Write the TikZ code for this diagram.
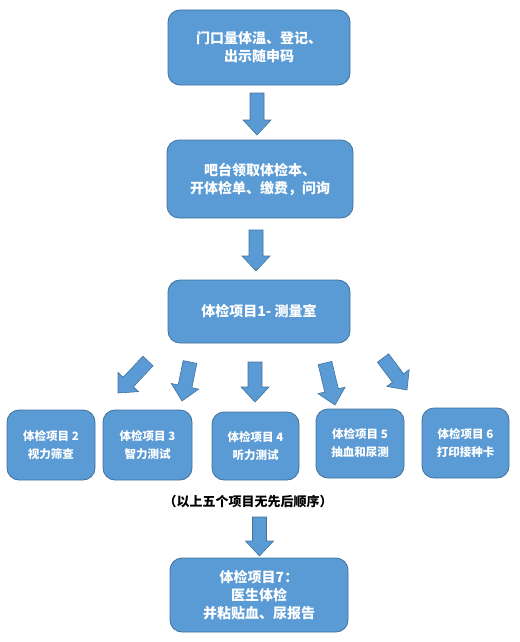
\documentclass[tikz,border=0pt]{standalone}
\usepackage{fontspec}
\newfontfamily\cjk{Noto Sans CJK SC}
\usetikzlibrary{calc}
\definecolor{boxblue}{HTML}{5B9BD5}
\definecolor{boxedge}{HTML}{41719C}
\tikzset{
  box/.style={draw=boxedge, line width=0.8pt, fill=boxblue, rounded corners=12pt,
    text=white, font=\cjk\bfseries\fontsize{14}{18}\selectfont, align=center, inner sep=0pt},
  smallbox/.style={box, font=\cjk\bfseries\fontsize{11.5}{18}\selectfont},
  arrowfill/.style={fill=boxblue, draw=boxedge, line width=0.6pt, line join=miter},
  notetext/.style={font=\cjk\bfseries\fontsize{13}{16}\selectfont, text=black, inner sep=0pt},
}
\newcommand\blockarrow[2]{%
  \path[arrowfill] let \p1=(#1), \p2=(#2),
    \n1={atan2(\y2-\y1,\x2-\x1)}, \n2={veclen(\x2-\x1,\y2-\y1)}, \n3={\n2-15}
    in [shift={(\p1)}, rotate=\n1]
    (0,-7) -- (\n3,-7) -- (\n3,-14) -- (\n2,0) -- (\n3,14) -- (\n3,7) -- (0,7) -- cycle;}
\begin{document}
\begin{tikzpicture}[x=1pt,y=-1pt]
\useasboundingbox (0,0) rectangle (519,642);
\node[box, minimum width=182pt, minimum height=75pt] (A) at (259,47.5) {门口量体温、登记、\\出示随申码};
\node[box, minimum width=186pt, minimum height=78pt] (B) at (260,179) {吧台领取体检本、\\开体检单、缴费，问询};
\node[box, minimum width=182pt, minimum height=63pt] (C) at (259,311.5) {体检项目1-\ 测量室};
\node[smallbox, minimum width=88pt, minimum height=70pt] (P2) at (51,445) {体检项目 2\\视力筛查};
\node[smallbox, minimum width=89pt, minimum height=70pt] (P3) at (147.5,445) {体检项目 3\\智力测试};
\node[smallbox, minimum width=87pt, minimum height=68pt] (P4) at (255.5,446) {体检项目 4\\听力测试};
\node[smallbox, minimum width=88pt, minimum height=69pt] (P5) at (360,443.5) {体检项目 5\\抽血和尿测};
\node[smallbox, minimum width=87pt, minimum height=70pt] (P6) at (465.5,443) {体检项目 6\\打印接种卡};
\node[notetext] (N) at (248,502) {（以上五个项目无先后顺序）};
\node[box, minimum width=178pt, minimum height=74pt] (P7) at (259,595) {体检项目7：\\医生体检\\并粘贴血、尿报告};
% arrow end points
\coordinate (t1) at (257,93);  \coordinate (h1) at (257,135);
\coordinate (t2) at (256,230); \coordinate (h2) at (256,271);
\coordinate (ta) at (148,361); \coordinate (ha) at (118,393);
\coordinate (tb) at (190,362); \coordinate (hb) at (182,401);
\coordinate (tc) at (255,362); \coordinate (hc) at (255,402);
\coordinate (td) at (325,363); \coordinate (hd) at (335,405);
\coordinate (te) at (383,358); \coordinate (he) at (407,390);
\coordinate (t7) at (259.5,517); \coordinate (h7) at (259.5,556);
\blockarrow{t1}{h1}
\blockarrow{t2}{h2}
\blockarrow{ta}{ha}
\blockarrow{tb}{hb}
\blockarrow{tc}{hc}
\blockarrow{td}{hd}
\blockarrow{te}{he}
\blockarrow{t7}{h7}
\end{tikzpicture}
\end{document}
